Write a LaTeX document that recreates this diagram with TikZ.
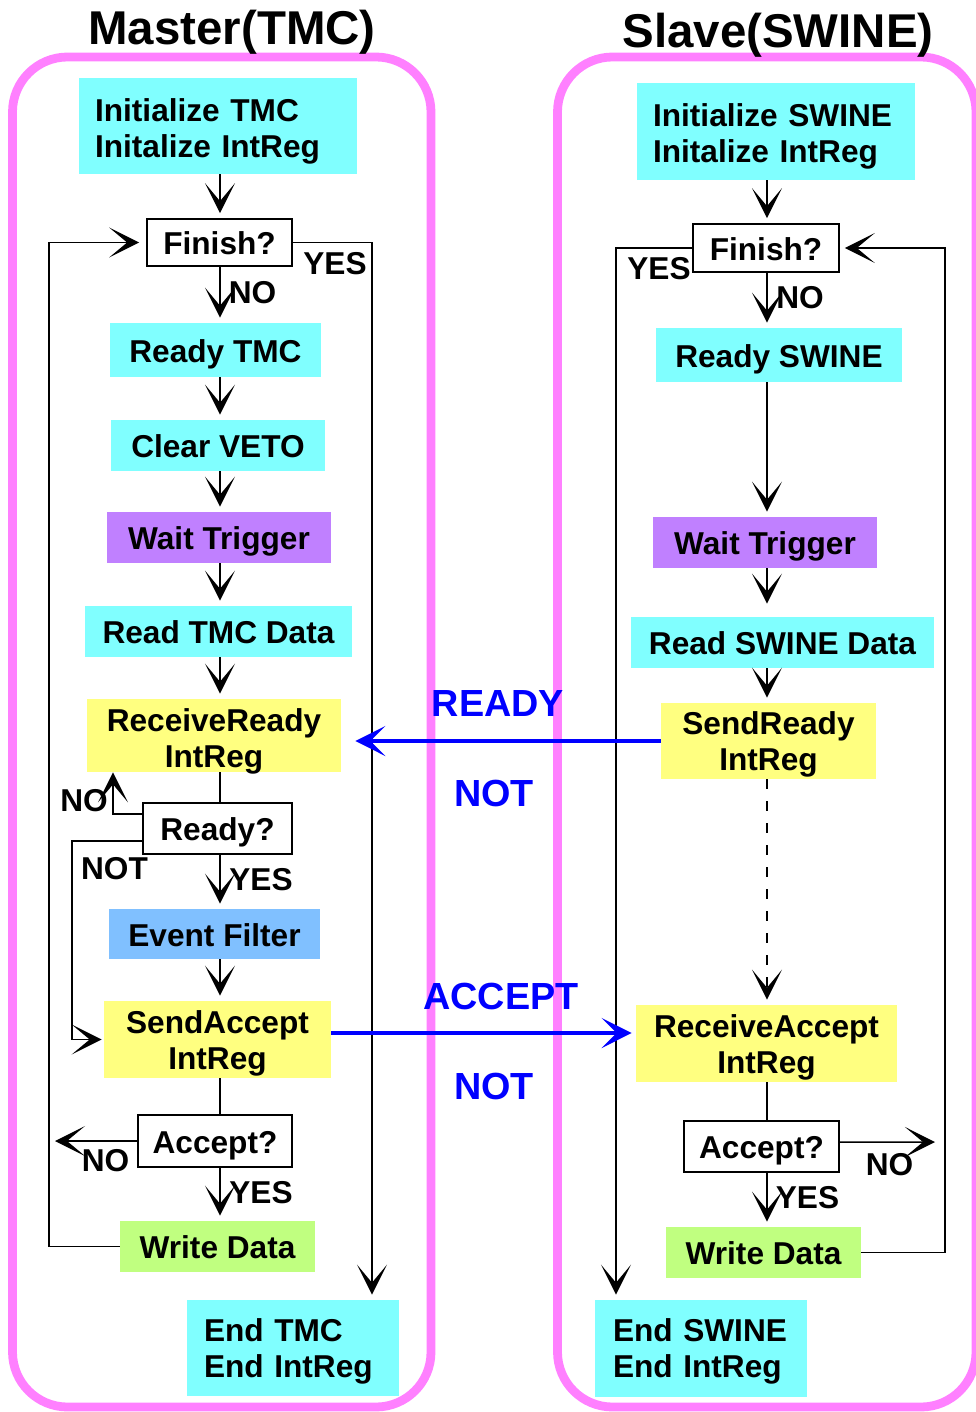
\documentclass[tikz,border=0pt]{standalone}
\usepackage{fontspec}
\setmainfont{Liberation Sans}
\usetikzlibrary{arrows.meta}
\definecolor{boxcyan}{HTML}{80FFFF}
\definecolor{boxyellow}{HTML}{FFFF80}
\definecolor{boxpurple}{HTML}{C080FF}
\definecolor{boxblue}{HTML}{80C0FF}
\definecolor{boxgreen}{HTML}{C0FF80}
\definecolor{framepink}{HTML}{FF80FF}

\begin{document}
\begin{tikzpicture}[x=0.02cm, y=-0.02cm,
    stepnode/.style={rectangle, inner sep=0pt, align=center, text height=13.7pt, text depth=0pt},
    twostep/.style={stepnode, text width=#1},
    asknode/.style={rectangle, draw=black, line width=1pt, fill=white, inner sep=0pt, text height=13.7pt, text depth=0pt},
    flow/.style={line width=0.85pt, -{Stealth[length=0.6cm, width=0.6cm, inset=0.36cm]}, shorten >=0.1cm},
    plain/.style={line width=0.85pt},
    signal/.style={draw=blue, line width=2.3pt, -{Stealth[length=0.6cm, width=0.6cm, inset=0.3cm]}},
    bluetext/.style={text=blue, font=\fontsize{21.5}{25}\selectfont\bfseries},
    titletext/.style={anchor=base, font=\fontsize{27}{31}\selectfont\bfseries},
    frame/.style={draw=framepink, line width=5pt, rounded corners=1.1cm},
    ]
    \tikzstyle{every node}=[font=\fontsize{18}{20.5}\selectfont\bfseries]
    \useasboundingbox (0,0) rectangle (976,1412);

    %Frames
    \draw[frame] (12.5,57) rectangle (431,1407);
    \draw[frame] (557.5,57) rectangle (976,1407);
    \node[titletext] (mtitle) at (232,45) {Master(TMC)};
    \node[titletext] (stitle) at (778,48) {Slave(SWINE)};

    %Nodes master
    \node[twostep=4.92cm, fill=boxcyan, minimum width=5.56cm, minimum height=1.92cm, align=left, text depth=0.646cm] (minit) at (218,126) {Initialize TMC\\Initalize IntReg};
    \node[asknode, minimum width=2.9cm, minimum height=0.94cm] (mfinish) at (219.5,242.5) {Finish?};
    \node[stepnode, fill=boxcyan, minimum width=4.22cm, minimum height=1.08cm] (mready) at (215.5,350) {Ready TMC};
    \node[stepnode, fill=boxcyan, minimum width=4.28cm, minimum height=1.02cm] (mveto) at (218,445.5) {Clear VETO};
    \node[stepnode, fill=boxpurple, minimum width=4.48cm, minimum height=1.02cm] (mwait) at (219,537.5) {Wait Trigger};
    \node[stepnode, fill=boxcyan, minimum width=5.34cm, minimum height=1.02cm] (mread) at (218.5,631.5) {Read TMC Data};
    \node[twostep=5.08cm, fill=boxyellow, minimum width=5.08cm, minimum height=1.46cm, text depth=0.626cm] (mrecvrdy) at (214,735.5) {ReceiveReady\\IntReg};
    \node[asknode, minimum width=2.98cm, minimum height=1.02cm] (mreadyq) at (217.5,828.5) {Ready?};
    \node[stepnode, fill=boxblue, minimum width=4.22cm, minimum height=1.0cm] (mfilter) at (214.5,934) {Event Filter};
    \node[twostep=4.54cm, fill=boxyellow, minimum width=4.54cm, minimum height=1.54cm, text depth=0.706cm] (msendacc) at (217.5,1039.5) {SendAccept\\IntReg};
    \node[asknode, minimum width=3.08cm, minimum height=1.04cm] (macceptq) at (215,1141) {Accept?};
    \node[stepnode, fill=boxgreen, minimum width=3.9cm, minimum height=1.02cm] (mwrite) at (217.5,1246.5) {Write Data};
    \node[twostep=3.56cm, fill=boxcyan, minimum width=4.24cm, minimum height=1.92cm, align=left, text depth=0.726cm] (mend) at (293,1348) {End TMC\\End IntReg};

    %Nodes slave
    \node[twostep=4.92cm, fill=boxcyan, minimum width=5.56cm, minimum height=1.94cm, align=left, text depth=0.666cm] (sinit) at (776,131.5) {Initialize SWINE\\Initalize IntReg};
    \node[asknode, minimum width=2.92cm, minimum height=0.96cm] (sfinish) at (766,248) {Finish?};
    \node[stepnode, fill=boxcyan, minimum width=4.92cm, minimum height=1.08cm] (sready) at (779,355) {Ready SWINE};
    \node[stepnode, fill=boxpurple, minimum width=4.48cm, minimum height=1.02cm] (swait) at (765,542.5) {Wait Trigger};
    \node[stepnode, fill=boxcyan, minimum width=6.06cm, minimum height=1.02cm] (sread) at (782.5,642.5) {Read SWINE Data};
    \node[twostep=4.3cm, fill=boxyellow, minimum width=4.3cm, minimum height=1.52cm, text depth=0.726cm] (ssendrdy) at (768.5,741) {SendReady\\IntReg};
    \node[twostep=5.22cm, fill=boxyellow, minimum width=5.22cm, minimum height=1.54cm, text depth=0.706cm] (srecvacc) at (766.5,1043.5) {ReceiveAccept\\IntReg};
    \node[asknode, minimum width=3.1cm, minimum height=1.02cm] (sacceptq) at (761.5,1146.5) {Accept?};
    \node[stepnode, fill=boxgreen, minimum width=3.9cm, minimum height=1.02cm] (swrite) at (763.5,1252.5) {Write Data};
    \node[twostep=3.52cm, fill=boxcyan, minimum width=4.24cm, minimum height=1.94cm, align=left, text depth=0.746cm] (send) at (701,1348.5) {End SWINE\\End IntReg};

    %Labels
    \node (mfinno) at (252.5,292.5) {NO};
    \node (mfinyes) at (335,264) {YES};
    \node (mrdyno) at (84,801) {NO};
    \node (mrdynot) at (114.5,869) {NOT};
    \node (mrdyyes) at (261,880) {YES};
    \node (maccno) at (105.5,1160.5) {NO};
    \node (maccyes) at (261,1192.5) {YES};
    \node (sfinno) at (800,297.5) {NO};
    \node (sfinyes) at (659,269) {YES};
    \node (saccno) at (889.5,1165) {NO};
    \node (saccyes) at (807.5,1197.5) {YES};
    \node[bluetext] (rdylabel) at (498,703) {READY};
    \node[bluetext] (rdynot) at (494,793) {NOT};
    \node[bluetext] (acclabel) at (501,996) {ACCEPT};
    \node[bluetext] (accnot) at (494,1086) {NOT};

    %Bends and loose ends
    \coordinate (lx) at (220,0);
    \coordinate (rx) at (767,0);
    \coordinate (mloopx) at (49,0);
    \coordinate (myesx) at (372,0);
    \coordinate (mnox) at (113,0);
    \coordinate (mnotx) at (72,0);
    \coordinate (syesx) at (616,0);
    \coordinate (sloopx) at (945,0);
    \coordinate (mnoend) at (55,1141);
    \coordinate (snoend) at (935,1142);

    %Lines master
    \draw[flow] (minit.south -| lx) -- (mfinish.north -| lx);
    \draw[flow] (mfinish.south -| lx) -- (mready.north -| lx);
    \draw[flow] (mready.south -| lx) -- (mveto.north -| lx);
    \draw[flow] (mveto.south -| lx) -- (mwait.north -| lx);
    \draw[flow] (mwait.south -| lx) -- (mread.north -| lx);
    \draw[flow] (mread.south -| lx) -- (mrecvrdy.north -| lx);
    \draw[plain] (mrecvrdy.south -| lx) -- (mreadyq.north -| lx);
    \draw[flow] (mreadyq.south -| lx) -- (mfilter.north -| lx);
    \draw[flow] (mfilter.south -| lx) -- (msendacc.north -| lx);
    \draw[plain] (msendacc.south -| lx) -- (macceptq.north -| lx);
    \draw[flow] (macceptq.south -| lx) -- (mwrite.north -| lx);
    \draw[flow] (mfinish.east) -| (myesx |- mend.north);
    \draw[flow, shorten >=0.14cm] (mwrite.west) -| (mloopx |- mfinish.west) -- (mfinish.west);
    \draw[flow, shorten >=0pt] ([yshift=0.29cm]mreadyq.west) -| (mnox |- mrecvrdy.south);
    \draw[flow, shorten >=0.04cm] ([yshift=-0.25cm]mreadyq.west) -| (mnotx |- msendacc.west) -- (msendacc.west);
    \draw[flow, shorten >=0pt] (macceptq.west) -- (mnoend);

    %Lines slave
    \draw[flow] (sinit.south -| rx) -- (sfinish.north -| rx);
    \draw[flow] (sfinish.south -| rx) -- (sready.north -| rx);
    \draw[flow] (sready.south -| rx) -- (swait.north -| rx);
    \draw[flow, shorten >=0.26cm] (swait.south -| rx) -- (sread.north -| rx);
    \draw[flow] (sread.south -| rx) -- (ssendrdy.north -| rx);
    \draw[flow, line width=0.7pt, dash pattern=on 5.7pt off 6.8pt] (ssendrdy.south -| rx) -- (srecvacc.north -| rx);
    \draw[plain] (srecvacc.south -| rx) -- (sacceptq.north -| rx);
    \draw[flow] (sacceptq.south -| rx) -- (swrite.north -| rx);
    \draw[flow, shorten >=0pt] ([yshift=0.09cm]sacceptq.east) -- (snoend);
    \draw[flow] (swrite.east) -| (sloopx |- sfinish.east) -- (sfinish.east);
    \draw[flow] (sfinish.west) -| (syesx |- send.north);

    %Signals
    \draw[signal, shorten >=0.28cm] (ssendrdy.west) -- (ssendrdy.west -| mrecvrdy.east);
    \draw[signal, shorten >=0.08cm] ([yshift=0.13cm]msendacc.east) -- ([yshift=0.13cm]msendacc.east -| srecvacc.west);

\end{tikzpicture}
\end{document}
